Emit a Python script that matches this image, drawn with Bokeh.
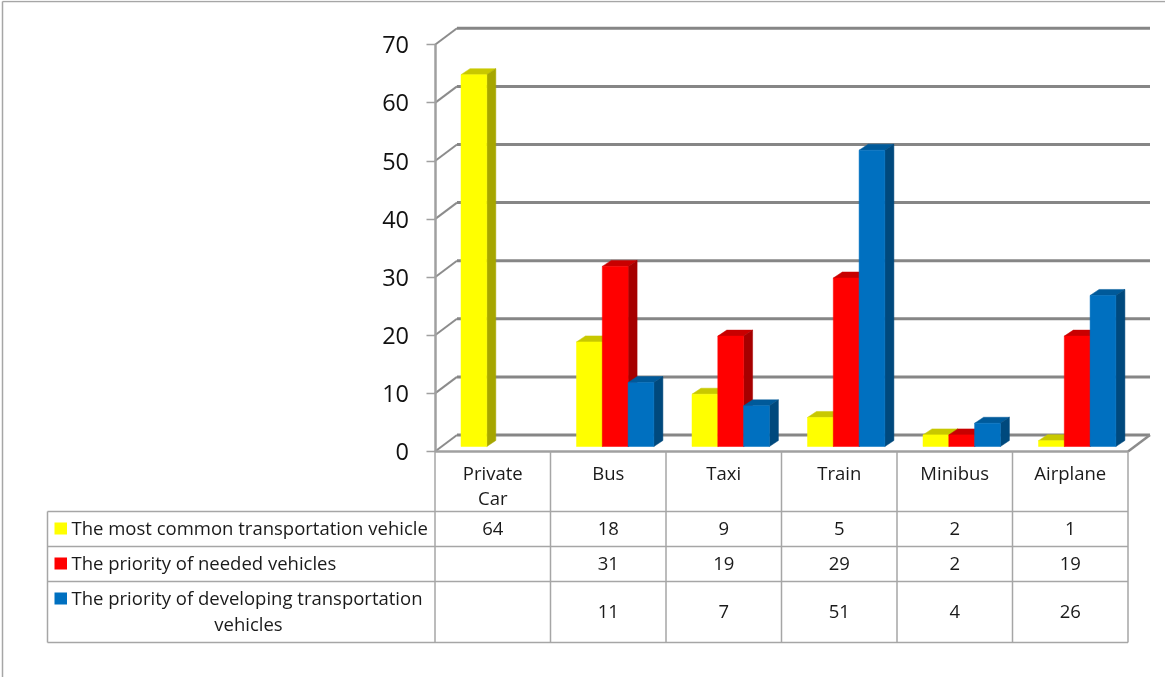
from bokeh.plotting import figure
from bokeh.models import Range1d, FixedTicker
from bokeh.core.properties import value
from bokeh.embed import file_html
from bokeh.resources import INLINE

categories = ["Private\nCar", "Bus", "Taxi", "Train", "Minibus", "Airplane"]
most_common = [64, 18, 9, 5, 2, 1]
needed = [None, 31, 19, 29, 2, 19]
developing = [None, 11, 7, 51, 4, 26]
y_ticks = [0, 10, 20, 30, 40, 50, 60, 70]
series_names = ["The most common transportation vehicle", "The priority of needed vehicles",
                "The priority of developing transportation\nvehicles"]
front = ["#FFFF00", "#FF0000", "#0070C0"]
top = ["#C8C800", "#C80000", "#005A9A"]
side = ["#A6A600", "#A60000", "#00497D"]

W, H = 1165, 677
X0, CAT = 434.5, 115.5
Y0, UNIT = 451.0, 5.81
FONT = value("Open Sans")


def dx(px):
    return (px - X0) / CAT


def dy(py):
    return (Y0 - py) / UNIT


p = figure(width=W, height=H, output_backend="svg", toolbar_location=None,
           x_range=Range1d(dx(0), dx(W)), y_range=Range1d(dy(H), dy(0)),
           min_border=0, outline_line_color=None, background_fill_color="white",
           border_fill_color="white", x_axis_location=None, y_axis_location="left",
           styles={"position": "fixed", "left": "0", "top": "0"})
p.grid.visible = False

ax = p.yaxis[0]
ax.fixed_location = 0
ax.bounds = (0, 70)
ax.ticker = FixedTicker(ticks=y_ticks)
ax.major_tick_out = 9
ax.major_tick_in = 0
ax.minor_tick_out = 0
ax.minor_tick_in = 0
ax.axis_line_color = "#A0A0A0"
ax.axis_line_width = 2.5
ax.major_tick_line_color = "#A0A0A0"
ax.major_tick_line_width = 1.5
ax.major_label_text_font = "Open Sans"
ax.major_label_text_font_size = "23.5px"
ax.major_label_text_color = "#111111"
ax.major_label_standoff = 17

# Outer chart frame
p.line([dx(2), dx(2)], [dy(H), dy(1)], line_color="#A6A6A6", line_width=1.5)
p.line([dx(2), dx(W)], [dy(1), dy(1)], line_color="#A6A6A6", line_width=1.5)

# Back-wall gridlines and floor
WALL_X, WALL_Y = 22, 16.5
back_left, back_right = X0 + WALL_X, X0 + 6 * CAT + WALL_X
for t in y_ticks:
    w = WALL_Y / UNIT
    p.line([0, dx(back_left)], [t, t + w], line_color="#8C8C8C", line_width=2)
    p.line([dx(back_left), dx(back_right)], [t + w, t + w], line_color="#868686", line_width=3)
p.line([6, dx(back_right)], [0, WALL_Y / UNIT], line_color="#8C8C8C", line_width=2.5)

# Bars
BASE = 5 / UNIT
BAR_W = 25.8 / CAT
FIRST = 26 / CAT
DEPTH_X, DEPTH_Y = 9 / CAT, 6 / UNIT
for s, vals in enumerate([most_common, needed, developing]):
    items = [(i, v) for i, v in enumerate(vals) if v is not None]
    l = [i + FIRST + s * BAR_W for i, _ in items]
    h = [v + BASE for _, v in items]
    r = [a + BAR_W for a in l]
    p.patches([[a, a + DEPTH_X, b + DEPTH_X, b] for a, b in zip(l, r)],
              [[t, t + DEPTH_Y, t + DEPTH_Y, t] for t in h],
              fill_color=top[s], line_color=top[s], line_width=0.5)
    p.patches([[b, b + DEPTH_X, b + DEPTH_X, b] for b in r],
              [[BASE, BASE + DEPTH_Y, t + DEPTH_Y, t] for t in h],
              fill_color=side[s], line_color=side[s], line_width=0.5)
    p.quad(left=l, right=r, bottom=[BASE] * len(l), top=h,
           fill_color=front[s], line_color=front[s], line_width=0.5)

# Data table grid
GRID = dict(line_color="#A6A6A6", line_width=1.5)
row_lines = [511, 546, 581, 642]
p.line([0, 6], [0, 0], line_color="#A0A0A0", line_width=2.5)
for py in row_lines:
    p.line([dx(47), 6], [dy(py), dy(py)], **GRID)
p.line([dx(47), dx(47)], [dy(511), dy(642)], **GRID)
for c in range(7):
    p.line([c, c], [0, dy(642)], **GRID)

TXT = dict(text_font=FONT, text_font_size="18.5px", text_color="#1A1A1A", text_baseline="middle")

# Category labels
cx, cy, ct = [], [], []
for i, name in enumerate(categories):
    parts = name.split("\n")
    for j, part in enumerate(parts):
        cx.append(i + 0.5)
        cy.append(dy(472 + j * 24.5))
        ct.append(part)
p.text(cx, cy, ct, text_align="center", **TXT)

# Table values
rows_y = [528, 563, 611]
for vals, py in zip([most_common, needed, developing], rows_y):
    items = [(i, v) for i, v in enumerate(vals) if v is not None]
    p.text([i + 0.5 for i, _ in items], [dy(py)] * len(items), [str(v) for _, v in items],
           text_align="center", **TXT)

# Legend keys and names
key_tops = [522, 557, 592]
for s, ky in enumerate(key_tops):
    p.quad(left=[dx(54)], right=[dx(66.5)], top=[dy(ky)], bottom=[dy(ky + 12)],
           fill_color=front[s], line_color=None)
name_y = [527, 562, 597]
for s, ny in enumerate(name_y):
    first = series_names[s].split("\n")[0]
    p.text([dx(71)], [dy(ny)], [first], text_align="left", **TXT)
p.text([dx(248)], [dy(623)], [series_names[2].split("\n")[1]], text_align="center", **TXT)

open("out.html", "w").write(file_html(p, INLINE))
